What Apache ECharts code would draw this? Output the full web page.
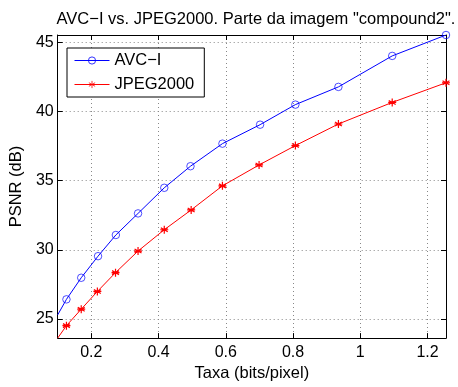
<!DOCTYPE html>
<html>
<head>
<meta charset="utf-8">
<script src="https://cdn.jsdelivr.net/npm/echarts@6/dist/echarts.min.js"></script>
<style>html,body{margin:0;padding:0;background:#fff}#c{width:458px;height:387px}</style>
</head>
<body>
<div id="c"></div>
<script>
// ---- data ----
const rateAVC  = [0.100, 0.126, 0.170, 0.220, 0.273, 0.339, 0.417, 0.495, 0.590, 0.702, 0.807, 0.935, 1.095, 1.255];
const psnrAVC  = [25.30, 26.42, 27.98, 29.54, 31.07, 32.63, 34.48, 36.04, 37.67, 39.04, 40.49, 41.77, 44.01, 45.52];
const rateJPEG = [0.100, 0.126, 0.170, 0.218, 0.272, 0.339, 0.417, 0.497, 0.590, 0.699, 0.807, 0.935, 1.095, 1.255];
const psnrJPEG = [23.62, 24.52, 25.71, 26.99, 28.35, 29.91, 31.45, 32.88, 34.62, 36.13, 37.53, 39.09, 40.65, 42.07];
const xTicks = [0.2, 0.4, 0.6, 0.8, 1.0, 1.2];
const yTicks = [25, 30, 35, 40, 45];
const seriesNames = ['AVC\u2212I', 'JPEG2000'];
const titleText = 'AVC\u2212I vs. JPEG2000. Parte da imagem "compound2".';
const xName = 'Taxa (bits/pixel)';
const yName = 'PSNR (dB)';

const xMin = Math.min(...rateAVC, ...rateJPEG), xMax = Math.max(...rateAVC, ...rateJPEG);
const yMin = Math.min(...psnrAVC, ...psnrJPEG), yMax = Math.max(...psnrAVC, ...psnrJPEG);

const FONT = '"Liberation Sans", Arial, Helvetica, sans-serif';
const star = 'path://M0,-10L0,10M-8.66,-5L8.66,5M-8.66,5L8.66,-5M-10,0L10,0';

function pts(xs, ys) {
  return xs.map((x, i) => i === 0 ? {value: [x, ys[i]], symbol: 'none'} : [x, ys[i]]);
}

const chart = echarts.init(document.getElementById('c'), null, {renderer: 'canvas'});
const axisCommon = {
  type: 'value',
  axisLine: {show: true, onZero: false, lineStyle: {color: '#000', width: 1}},
  axisTick: {show: true, inside: true, length: 5, lineStyle: {color: '#000'}},
};
chart.setOption({
  animation: false,
  textStyle: {fontFamily: FONT},
  title: {
    text: titleText, left: 251, top: 6, textAlign: 'center',
    textStyle: {fontFamily: FONT, fontSize: 16.5, fontWeight: 'normal', color: '#000'}
  },
  grid: {left: 56, right: 12, top: 35, bottom: 44, containLabel: false},
  legend: {
    orient: 'vertical', left: 67, top: 48,
    backgroundColor: '#fff', borderColor: '#000', borderWidth: 1,
    padding: [4, 10, 4, 7], itemGap: 7, itemWidth: 35, itemHeight: 9,
    textStyle: {fontFamily: FONT, fontSize: 16.5, lineHeight: 16, color: '#000'},
    itemStyle: {borderWidth: 0.8},
    lineStyle: {width: 1},
    data: seriesNames
  },
  xAxis: [
    Object.assign({}, axisCommon, {
      min: xMin, max: xMax, position: 'bottom',
      name: xName, nameLocation: 'middle', nameGap: 22,
      nameTextStyle: {fontFamily: FONT, fontSize: 16.5, color: '#000'},
      axisTick: Object.assign({}, axisCommon.axisTick, {customValues: xTicks}),
      axisLabel: {customValues: xTicks, margin: 6, fontFamily: FONT, fontSize: 16, color: '#000',
        formatter: v => String(+v.toFixed(2))},
      splitLine: {show: true, lineStyle: {color: '#888', type: [1, 3], width: 1}}
    }),
    Object.assign({}, axisCommon, {
      min: xMin, max: xMax, position: 'top',
      axisTick: Object.assign({}, axisCommon.axisTick, {customValues: xTicks}),
      axisLabel: {show: false}, splitLine: {show: false}
    })
  ],
  yAxis: [
    Object.assign({}, axisCommon, {
      min: yMin, max: yMax, position: 'left',
      name: yName, nameLocation: 'middle', nameGap: 24, nameRotate: 90,
      nameTextStyle: {fontFamily: FONT, fontSize: 16.5, color: '#000'},
      axisTick: Object.assign({}, axisCommon.axisTick, {customValues: yTicks}),
      axisLabel: {customValues: yTicks, margin: 4, fontFamily: FONT, fontSize: 16, color: '#000'},
      splitLine: {show: true, lineStyle: {color: '#888', type: [1, 3], width: 1}}
    }),
    Object.assign({}, axisCommon, {
      min: yMin, max: yMax, position: 'right',
      axisTick: Object.assign({}, axisCommon.axisTick, {customValues: yTicks}),
      axisLabel: {show: false}, splitLine: {show: false}
    })
  ],
  series: [
    {
      name: seriesNames[0], type: 'line', xAxisIndex: 0, yAxisIndex: 0,
      data: pts(rateAVC, psnrAVC),
      symbol: 'circle', symbolSize: 7.5, showAllSymbol: true,
      lineStyle: {color: '#0000ff', width: 1},
      itemStyle: {color: 'rgba(255,255,255,0)', borderColor: '#0000ff', borderWidth: 0.7}
    },
    {
      name: seriesNames[1], type: 'line', xAxisIndex: 0, yAxisIndex: 0,
      data: pts(rateJPEG, psnrJPEG),
      symbol: star, symbolSize: 8, showAllSymbol: true,
      lineStyle: {color: '#ff0000', width: 1},
      itemStyle: {color: '#ff0000', borderColor: '#ff0000', borderWidth: 1.2}
    }
  ]
});
</script>
</body>
</html>
